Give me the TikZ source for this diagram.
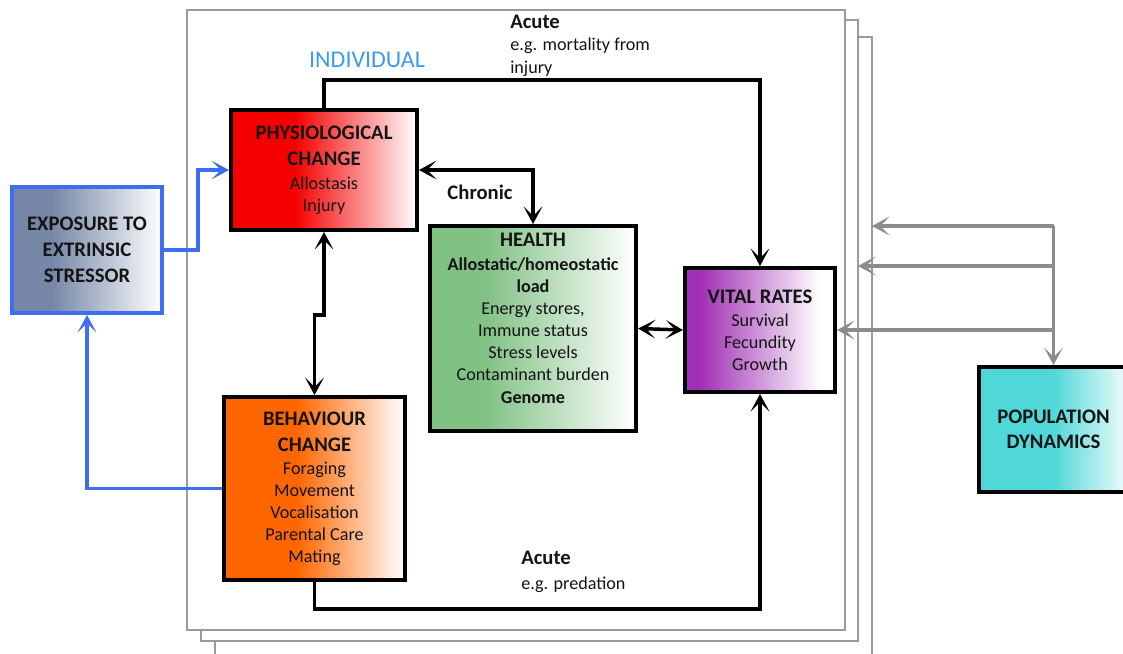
\documentclass[tikz,border=0pt]{standalone}
\usepackage{fontspec}
\setmainfont{Carlito}
\usetikzlibrary{arrows.meta,calc}
\definecolor{txtc}{HTML}{141414}
\definecolor{bluel}{HTML}{3D6EF2}
\definecolor{indblue}{HTML}{3D9BE9}
\definecolor{grayl}{HTML}{8C8C8C}
\definecolor{framec}{HTML}{9A9A9A}
\definecolor{slate}{HTML}{7586A6}
\definecolor{redc}{HTML}{F50000}
\definecolor{greenc}{HTML}{80C184}
\definecolor{purplec}{HTML}{A030B5}
\definecolor{orangec}{HTML}{FF6600}
\definecolor{tealc}{HTML}{50D8D8}
\pgfdeclarehorizontalshading{slatefade}{100bp}{color(0bp)=(slate); color(25bp)=(slate); color(38bp)=(slate); color(75bp)=(white); color(100bp)=(white)}
\pgfdeclarehorizontalshading{redfade}{100bp}{color(0bp)=(redc); color(25bp)=(redc); color(42bp)=(redc); color(75bp)=(white); color(100bp)=(white)}
\pgfdeclarehorizontalshading{greenfade}{100bp}{color(0bp)=(greenc); color(25bp)=(greenc); color(38bp)=(greenc); color(75bp)=(white); color(100bp)=(white)}
\pgfdeclarehorizontalshading{purplefade}{100bp}{color(0bp)=(purplec); color(25bp)=(purplec); color(30bp)=(purplec); color(70bp)=(white); color(100bp)=(white)}
\pgfdeclarehorizontalshading{orangefade}{100bp}{color(0bp)=(orangec); color(25bp)=(orangec); color(45bp)=(orangec); color(75bp)=(white); color(100bp)=(white)}
\pgfdeclarehorizontalshading{tealfade}{100bp}{color(0bp)=(tealc); color(25bp)=(tealc); color(50bp)=(tealc); color(75bp)=(white!92!tealc); color(100bp)=(white)}
\newcommand\Ttl[1]{{\fontsize{15.5}{16.5}\selectfont\bfseries #1}}
\newcommand\Bld[1]{{\bfseries #1}}
\begin{document}
\begin{tikzpicture}[x=0.75pt,y=-0.75pt,
  font=\fontsize{13.6}{16.5}\selectfont, text=txtc,
  box/.style={draw=black, line width=3pt, inner sep=0pt, align=center},
  frame/.style={draw=framec, line width=1.4pt, fill=white},
  tip/.style={-{Stealth[length=13pt,width=14pt,inset=7pt]}},
  dtip/.style={{Stealth[length=13pt,width=14pt,inset=7pt]}-{Stealth[length=13pt,width=14pt,inset=7pt]}},
  blk/.style={draw=black, line width=2.6pt},
  blu/.style={draw=bluel, line width=2.6pt},
  gry/.style={draw=grayl, line width=2.6pt},
  lbl/.style={inner sep=0pt, align=left, anchor=west}
]
\useasboundingbox (0,0) rectangle (1123,653);
% stacked frames
\draw[frame] (215,37) rectangle (872,670);
\draw[frame] (201,20) rectangle (858,641);
\draw[frame] (187,10) rectangle (845,630);

% boxes
\node[box, draw=bluel, shading=slatefade, minimum width=112.5pt, minimum height=94.5pt] (expo) at (87,250)
  {\Ttl{EXPOSURE TO}\\[3pt]\Ttl{EXTRINSIC}\\[3pt]\Ttl{STRESSOR}};
\node[box, shading=redfade, minimum width=139.5pt, minimum height=90pt] (phys) at (324,170)
  {\Ttl{PHYSIOLOGICAL}\\[3pt]\Ttl{CHANGE}\\[1.5pt]Allostasis\\Injury};
\node[box, shading=greenfade, minimum width=154.5pt, minimum height=153.75pt] (health) at (533,328.5) {};
\node[inner sep=0pt, align=center] (healthtxt) at (533,318.5)
  {\Ttl{HEALTH}\\[1.5pt]\Bld{Allostatic/homeostatic}\\\Bld{load}\\Energy stores,\\Immune status\\Stress levels\\Contaminant burden\\[0.5pt]\Bld{Genome}};
\node[box, shading=purplefade, minimum width=112.5pt, minimum height=93pt] (vital) at (760,330)
  {\Ttl{VITAL RATES}\\[1pt]Survival\\Fecundity\\Growth};
\node[box, shading=orangefade, minimum width=135.75pt, minimum height=137.25pt] (beh) at (314.5,488.5)
  {\Ttl{BEHAVIOUR}\\[3pt]\Ttl{CHANGE}\\[1pt]Foraging\\Movement\\Vocalisation\\Parental Care\\Mating};
\node[box, shading=tealfade, minimum width=111.75pt, minimum height=93.75pt] (pop) at (1053.5,429.5)
  {\Ttl{POPULATION}\\[2.5pt]\Ttl{DYNAMICS}};

% labels
\node[inner sep=0pt, text=indblue, font=\fontsize{18}{20}\selectfont] (indiv) at (367,60) {INDIVIDUAL};
\node[lbl] (acute1) at (510,22) {\Ttl{Acute}};
\node[lbl] (mort) at (510,46) {e.g. mortality from};
\node[lbl] (inj) at (510,69) {injury};
\node[lbl] (acute2) at (521,558) {\Ttl{Acute}};
\node[lbl] (pred) at (521,585) {e.g. predation};
\node[inner sep=0pt] (chronic) at (480,192) {\Ttl{Chronic}};

% blue connectors
\draw[blu, tip] (expo.east) -- ++(34,0) |- (phys.west);
\draw[blu, tip] (beh.west) -| (expo.south);

% black connectors
\draw[blk, tip] (phys.north) -- ++(0,-28) -| (vital.north);
\draw[blk, dtip] (phys.east) -| (health.north);
\draw[blk, dtip] (phys.south) -- ++(0,83) -| (beh.north);
\draw[blk, dtip] (health.east) -- (vital.west);
\draw[blk, tip] (beh.south) -- ++(0,27) -| (vital.south);

% gray connectors
\coordinate (g1) at (872,226);
\coordinate (g2) at (858,266);
\coordinate (j1) at (pop.north |- g1);
\coordinate (j2) at (pop.north |- g2);
\coordinate (j3) at (pop.north |- vital.east);
\draw[gry, tip] (j1) -- (g1);
\draw[gry, tip] (j2) -- (g2);
\draw[gry, tip] (j3) -- (vital.east);
\draw[gry, tip] (j1) -- (pop.north);
\end{tikzpicture}
\end{document}
